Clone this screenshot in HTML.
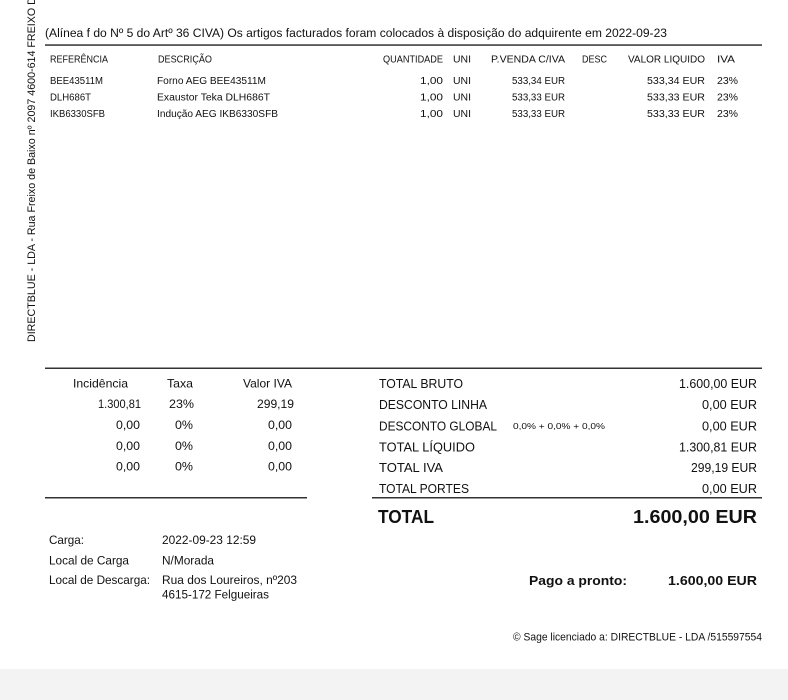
<!DOCTYPE html>
<html>
<head>
<meta charset="utf-8">
<style>
  html,body{margin:0;padding:0;background:#fff;}
  body{width:788px;height:700px;overflow:hidden;}
  svg{display:block;}
  text{font-family:"Liberation Sans",Arial,sans-serif;fill:#111;}
  .b{font-weight:bold;}
</style>
</head>
<body>
<svg width="788" height="700" viewBox="0 0 788 700" xmlns="http://www.w3.org/2000/svg">
  <rect x="0" y="0" width="788" height="700" fill="#ffffff"/>
  <rect x="0" y="669" width="788" height="31" fill="#f3f3f3"/>

  <!-- vertical side text -->
  <text transform="translate(35,342) rotate(-90)" font-size="11" textLength="352" lengthAdjust="spacingAndGlyphs">DIRECTBLUE - LDA - Rua Freixo de Baixo nº 2097 4600-614 FREIXO DE</text>

  <!-- heading -->
  <text x="45" y="37" font-size="12.3" textLength="622" lengthAdjust="spacingAndGlyphs">(Alínea f do Nº 5 do Artº 36 CIVA) Os artigos facturados foram colocados à disposição do adquirente em 2022-09-23</text>
  <rect x="45" y="44.3" width="717" height="1.5" fill="#333"/>

  <!-- column headers -->
  <g font-size="9.8">
    <text x="50" y="62.5" textLength="58" lengthAdjust="spacingAndGlyphs">REFERÊNCIA</text>
    <text x="158" y="62.5" textLength="54" lengthAdjust="spacingAndGlyphs">DESCRIÇÃO</text>
    <text x="383" y="62.5" textLength="60" lengthAdjust="spacingAndGlyphs">QUANTIDADE</text>
    <text x="453" y="62.5" textLength="18" lengthAdjust="spacingAndGlyphs">UNI</text>
    <text x="491" y="62.5" textLength="74" lengthAdjust="spacingAndGlyphs">P.VENDA C/IVA</text>
    <text x="582" y="62.5" textLength="25" lengthAdjust="spacingAndGlyphs">DESC</text>
    <text x="628" y="62.5" textLength="77" lengthAdjust="spacingAndGlyphs">VALOR LIQUIDO</text>
    <text x="717" y="62.5" textLength="18" lengthAdjust="spacingAndGlyphs">IVA</text>

    <!-- rows -->
    <text x="50" y="84" textLength="53" lengthAdjust="spacingAndGlyphs">BEE43511M</text>
    <text x="157" y="84" textLength="109" lengthAdjust="spacingAndGlyphs">Forno AEG BEE43511M</text>
    <text x="443" y="84" text-anchor="end" textLength="23" lengthAdjust="spacingAndGlyphs">1,00</text>
    <text x="453" y="84" textLength="18" lengthAdjust="spacingAndGlyphs">UNI</text>
    <text x="565" y="84" text-anchor="end" textLength="53" lengthAdjust="spacingAndGlyphs">533,34 EUR</text>
    <text x="705" y="84" text-anchor="end" textLength="58" lengthAdjust="spacingAndGlyphs">533,34 EUR</text>
    <text x="717" y="84" textLength="21" lengthAdjust="spacingAndGlyphs">23%</text>

    <text x="50" y="100.5" textLength="41" lengthAdjust="spacingAndGlyphs">DLH686T</text>
    <text x="157" y="100.5" textLength="113" lengthAdjust="spacingAndGlyphs">Exaustor Teka DLH686T</text>
    <text x="443" y="100.5" text-anchor="end" textLength="23" lengthAdjust="spacingAndGlyphs">1,00</text>
    <text x="453" y="100.5" textLength="18" lengthAdjust="spacingAndGlyphs">UNI</text>
    <text x="565" y="100.5" text-anchor="end" textLength="53" lengthAdjust="spacingAndGlyphs">533,33 EUR</text>
    <text x="705" y="100.5" text-anchor="end" textLength="58" lengthAdjust="spacingAndGlyphs">533,33 EUR</text>
    <text x="717" y="100.5" textLength="21" lengthAdjust="spacingAndGlyphs">23%</text>

    <text x="50" y="117" textLength="55" lengthAdjust="spacingAndGlyphs">IKB6330SFB</text>
    <text x="157" y="117" textLength="121" lengthAdjust="spacingAndGlyphs">Indução AEG IKB6330SFB</text>
    <text x="443" y="117" text-anchor="end" textLength="23" lengthAdjust="spacingAndGlyphs">1,00</text>
    <text x="453" y="117" textLength="18" lengthAdjust="spacingAndGlyphs">UNI</text>
    <text x="565" y="117" text-anchor="end" textLength="53" lengthAdjust="spacingAndGlyphs">533,33 EUR</text>
    <text x="705" y="117" text-anchor="end" textLength="58" lengthAdjust="spacingAndGlyphs">533,33 EUR</text>
    <text x="717" y="117" textLength="21" lengthAdjust="spacingAndGlyphs">23%</text>
  </g>

  <rect x="45" y="367.5" width="717" height="1.5" fill="#333"/>

  <!-- tax table -->
  <g font-size="11.6">
    <text x="73" y="387.5" textLength="55" lengthAdjust="spacingAndGlyphs">Incidência</text>
    <text x="167" y="387.5" textLength="26" lengthAdjust="spacingAndGlyphs">Taxa</text>
    <text x="243" y="387.5" textLength="49" lengthAdjust="spacingAndGlyphs">Valor IVA</text>

    <text x="141" y="408" text-anchor="end" textLength="43" lengthAdjust="spacingAndGlyphs">1.300,81</text>
    <text x="169" y="408" textLength="25" lengthAdjust="spacingAndGlyphs">23%</text>
    <text x="294" y="408" text-anchor="end" textLength="37" lengthAdjust="spacingAndGlyphs">299,19</text>

    <text x="140" y="429" text-anchor="end" textLength="24" lengthAdjust="spacingAndGlyphs">0,00</text>
    <text x="175" y="429" textLength="18" lengthAdjust="spacingAndGlyphs">0%</text>
    <text x="292" y="429" text-anchor="end" textLength="24" lengthAdjust="spacingAndGlyphs">0,00</text>

    <text x="140" y="450" text-anchor="end" textLength="24" lengthAdjust="spacingAndGlyphs">0,00</text>
    <text x="175" y="450" textLength="18" lengthAdjust="spacingAndGlyphs">0%</text>
    <text x="292" y="450" text-anchor="end" textLength="24" lengthAdjust="spacingAndGlyphs">0,00</text>

    <text x="140" y="470.5" text-anchor="end" textLength="24" lengthAdjust="spacingAndGlyphs">0,00</text>
    <text x="175" y="470.5" textLength="18" lengthAdjust="spacingAndGlyphs">0%</text>
    <text x="292" y="470.5" text-anchor="end" textLength="24" lengthAdjust="spacingAndGlyphs">0,00</text>
  </g>
  <rect x="45" y="497" width="262" height="1.5" fill="#333"/>

  <!-- totals -->
  <g font-size="12.6">
    <text x="379" y="388" textLength="84" lengthAdjust="spacingAndGlyphs">TOTAL BRUTO</text>
    <text x="757" y="388" text-anchor="end" textLength="78" lengthAdjust="spacingAndGlyphs">1.600,00 EUR</text>

    <text x="379" y="409" textLength="108" lengthAdjust="spacingAndGlyphs">DESCONTO LINHA</text>
    <text x="757" y="409" text-anchor="end" textLength="55" lengthAdjust="spacingAndGlyphs">0,00 EUR</text>

    <text x="379" y="430.5" textLength="118" lengthAdjust="spacingAndGlyphs">DESCONTO GLOBAL</text>
    <text x="757" y="430.5" text-anchor="end" textLength="55" lengthAdjust="spacingAndGlyphs">0,00 EUR</text>

    <text x="379" y="451.5" textLength="96" lengthAdjust="spacingAndGlyphs">TOTAL LÍQUIDO</text>
    <text x="757" y="451.5" text-anchor="end" textLength="78" lengthAdjust="spacingAndGlyphs">1.300,81 EUR</text>

    <text x="379" y="472" textLength="64" lengthAdjust="spacingAndGlyphs">TOTAL IVA</text>
    <text x="757" y="472" text-anchor="end" textLength="66" lengthAdjust="spacingAndGlyphs">299,19 EUR</text>

    <text x="379" y="493" textLength="90" lengthAdjust="spacingAndGlyphs">TOTAL PORTES</text>
    <text x="757" y="493" text-anchor="end" textLength="55" lengthAdjust="spacingAndGlyphs">0,00 EUR</text>
  </g>
  <text x="513" y="429" font-size="8.6" textLength="92" lengthAdjust="spacingAndGlyphs">0,0% + 0,0% + 0,0%</text>
  <rect x="372" y="497" width="390" height="1.5" fill="#333"/>

  <text class="b" x="378" y="523" font-size="18" textLength="56" lengthAdjust="spacingAndGlyphs">TOTAL</text>
  <text class="b" x="757" y="523" font-size="18" text-anchor="end" textLength="124" lengthAdjust="spacingAndGlyphs">1.600,00 EUR</text>

  <!-- carga -->
  <g font-size="12.2">
    <text x="49" y="544" textLength="35" lengthAdjust="spacingAndGlyphs">Carga:</text>
    <text x="162" y="544" textLength="94" lengthAdjust="spacingAndGlyphs">2022-09-23 12:59</text>
    <text x="49" y="564.5" textLength="80" lengthAdjust="spacingAndGlyphs">Local de Carga</text>
    <text x="162" y="564.5" textLength="52" lengthAdjust="spacingAndGlyphs">N/Morada</text>
    <text x="49" y="584" textLength="101" lengthAdjust="spacingAndGlyphs">Local de Descarga:</text>
    <text x="162" y="584" textLength="135" lengthAdjust="spacingAndGlyphs">Rua dos Loureiros, nº203</text>
    <text x="162" y="598.5" textLength="107" lengthAdjust="spacingAndGlyphs">4615-172 Felgueiras</text>
  </g>

  <text class="b" x="529" y="585" font-size="13.3" textLength="98" lengthAdjust="spacingAndGlyphs">Pago a pronto:</text>
  <text class="b" x="757" y="585" font-size="13.3" text-anchor="end" textLength="89" lengthAdjust="spacingAndGlyphs">1.600,00 EUR</text>

  <text x="513" y="640.5" font-size="10.8" textLength="249" lengthAdjust="spacingAndGlyphs">© Sage licenciado a: DIRECTBLUE - LDA /515597554</text>
</svg>
</body>
</html>
